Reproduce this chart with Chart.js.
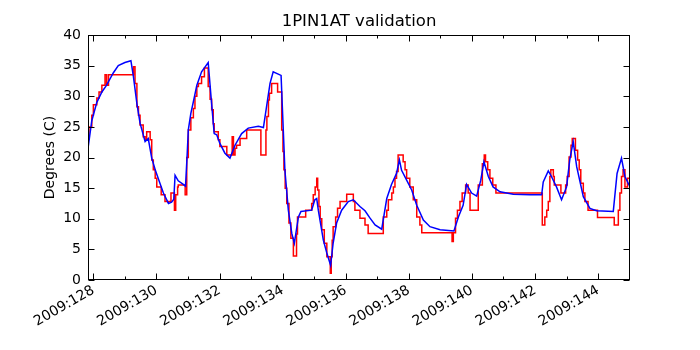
<!DOCTYPE html>
<html>
<head>
<meta charset="utf-8">
<title>1PIN1AT validation</title>
<script src="https://cdn.jsdelivr.net/npm/chart.js@4.4.1/dist/chart.umd.min.js"></script>
<style>
  html, body { margin: 0; padding: 0; background: #fff; }
  #wrap { width: 700px; height: 350px; }
</style>
</head>
<body>
<div id="wrap"><canvas id="validationChart" width="700" height="350"></canvas></div>
<script>
// ==============================================================
//  DADOS
// ==============================================================

// modelo (curva azul): dia do ano 2009 / graus C
const blueDays = [127.83,127.95,128.11,128.27,128.42,128.63,128.79,129.00,129.19,129.27,129.38,129.48,129.64,129.74,129.85,129.96,130.11,130.22,130.38,130.48,130.55,130.59,130.69,130.85,130.92,130.97,131.01,131.09,131.17,131.28,131.43,131.64,131.73,131.83,131.91,132.01,132.17,132.33,132.49,132.70,132.91,133.23,133.39,133.49,133.60,133.70,133.95,134.02,134.07,134.18,134.29,134.37,134.50,134.58,134.92,135.02,135.08,135.13,135.29,135.40,135.52,135.60,135.71,135.87,136.08,136.24,136.45,136.61,136.77,136.93,137.14,137.30,137.45,137.61,137.70,137.77,137.93,138.09,138.25,138.46,138.67,138.99,139.43,139.57,139.72,139.83,139.99,140.15,140.28,140.38,140.52,140.67,140.89,141.31,141.84,142.21,142.26,142.42,142.52,142.68,142.84,143.00,143.10,143.21,143.32,143.53,143.74,143.95,144.48,144.60,144.74,144.85,145.01];
const blueTemps = [21.5,26.0,29.0,30.7,31.8,33.8,35.0,35.5,35.8,33.2,28.8,25.6,22.6,23.1,19.9,18.0,15.8,14.2,12.5,12.7,13.2,17.1,16.2,15.6,15.3,20.1,24.5,27.2,29.1,31.8,34.0,35.5,29.9,23.9,23.7,22.3,20.7,19.9,22.0,23.9,24.8,25.1,24.9,28.3,32.1,34.0,33.4,24.5,18.0,11.4,7.6,6.0,10.3,11.2,11.4,13.1,13.3,11.4,6.5,4.4,2.4,6.0,9.3,11.4,12.8,13.1,12.0,11.3,10.1,9.0,8.3,13.3,15.6,17.4,19.6,17.9,16.3,14.7,12.2,9.8,8.7,8.2,8.0,10.3,12.2,15.6,14.2,13.7,16.3,19.3,16.9,15.2,14.4,14.0,13.9,13.9,16.0,17.8,16.9,15.2,13.1,15.2,19.6,22.6,18.5,13.6,11.7,11.3,11.2,17.4,19.9,16.9,15.2];

// telemetria (degraus vermelhos): inicio de cada nivel
const redDays = [127.83,127.86,127.95,128.00,128.11,128.18,128.27,128.37,128.42,128.48,129.27,129.32,129.38,129.43,129.48,129.58,129.64,129.69,129.80,129.85,129.90,129.96,130.01,130.15,130.27,130.46,130.57,130.61,130.67,130.69,130.91,130.96,131.01,131.09,131.17,131.22,131.28,131.33,131.43,131.52,131.64,131.70,131.75,131.80,131.83,131.96,132.01,132.23,132.40,132.44,132.49,132.54,132.65,132.86,133.31,133.47,133.50,133.55,133.58,133.65,133.84,133.97,134.01,134.04,134.08,134.13,134.20,134.26,134.34,134.44,134.47,134.73,134.92,134.97,135.03,135.08,135.11,135.15,135.19,135.24,135.32,135.40,135.51,135.54,135.57,135.60,135.68,135.74,135.82,136.03,136.24,136.29,136.45,136.61,136.71,137.19,137.30,137.35,137.46,137.51,137.56,137.61,137.66,137.82,137.88,137.93,138.03,138.14,138.25,138.35,138.41,139.37,139.41,139.48,139.54,139.62,139.69,139.80,139.88,139.94,140.20,140.33,140.39,140.43,140.50,140.57,140.66,140.76,142.23,142.31,142.37,142.42,142.47,142.50,142.58,142.61,142.82,142.97,143.02,143.08,143.14,143.18,143.28,143.35,143.40,143.45,143.53,143.58,143.68,143.98,144.51,144.64,144.69,144.74,144.79,144.85,144.93,145.01];
const redTemps = [23.0,25.0,26.9,28.6,29.7,30.7,31.8,33.5,31.8,33.5,34.8,32.1,28.3,26.9,25.3,23.4,22.9,24.2,22.9,19.6,18.0,16.6,15.2,13.9,12.8,14.2,11.4,13.9,15.2,15.5,13.9,20.0,24.5,26.5,28.0,30.0,31.6,32.1,33.2,34.6,31.6,29.5,27.8,25.5,24.2,22.9,21.8,20.4,23.4,20.4,21.5,22.0,23.1,24.5,20.4,24.5,26.7,29.4,30.5,32.1,30.7,24.5,21.0,18.0,15.0,12.5,9.3,6.8,3.9,7.5,10.3,11.4,12.5,13.9,15.2,16.6,14.7,12.0,10.0,8.2,6.0,3.8,1.1,3.8,6.5,8.7,10.3,11.7,12.8,14.0,12.8,11.4,10.1,9.0,7.6,10.3,11.4,13.1,14.2,15.2,16.6,17.7,20.4,19.3,18.0,16.6,15.2,13.1,10.3,9.0,7.7,6.3,7.7,10.1,11.4,12.8,14.2,15.5,14.2,11.4,15.5,19.0,20.4,19.3,18.0,16.6,15.5,14.2,9.0,10.3,11.4,12.8,16.9,18.0,16.9,15.5,14.2,15.5,16.9,20.1,22.0,23.1,21.2,19.6,18.0,15.8,14.2,12.8,11.4,10.2,9.0,11.4,14.2,16.9,18.0,15.2,16.6,16.6];

// eixos
const xMin = 127.83;
const xMax = 145.01;
const xMajorTicks = [128, 130, 132, 134, 136, 138, 140, 142, 144];
const xTickLabels = ['2009:128', '2009:130', '2009:132', '2009:134', '2009:136', '2009:138', '2009:140', '2009:142', '2009:144'];
const xMinorTicks = [129, 131, 133, 135, 137, 139, 141, 143];
const yTicks = [0, 5, 10, 15, 20, 25, 30, 35, 40];

// --- marcas de escala para dentro + moldura (estilo matplotlib) ---
const inwardTicks = {
    id: 'inwardTicks',
    afterDraw(chart) {
        const { ctx, chartArea: a, scales: { x, y } } = chart;
        const L = Math.round(a.left) + 0.5, R = Math.round(a.right) - 0.5;
        const T = Math.round(a.top) + 0.5, B = Math.round(a.bottom) - 0.5;
        ctx.save();
        ctx.strokeStyle = '#000';
        ctx.lineWidth = 1;
        ctx.beginPath();
        const xTick = (v, len) => {
            const px = Math.round(x.getPixelForValue(v)) + 0.5;
            ctx.moveTo(px, B); ctx.lineTo(px, B - len);
            ctx.moveTo(px, T); ctx.lineTo(px, T + len);
        };
        xMajorTicks.forEach(v => xTick(v, 6));
        xMinorTicks.forEach(v => xTick(v, 3));
        yTicks.forEach(v => {
            const py = Math.round(y.getPixelForValue(v)) + 0.5;
            ctx.moveTo(L, py); ctx.lineTo(L + 6, py);
            ctx.moveTo(R, py); ctx.lineTo(R - 6, py);
        });
        ctx.stroke();
        ctx.strokeRect(L, T, R - L, B - T);
        ctx.restore();
    }
};

document.addEventListener('DOMContentLoaded', function() {
    Chart.defaults.font.family = "'DejaVu Sans', sans-serif";
    Chart.defaults.font.size = 14;
    Chart.defaults.color = '#000';

    const bluePoints = blueDays.map((d, i) => ({ x: d, y: blueTemps[i] }));
    const redPoints = redDays.map((d, i) => ({ x: d, y: redTemps[i] }));

    new Chart(document.getElementById('validationChart'), {
        type: 'line',
        data: {
            datasets: [{
                label: 'model',
                data: bluePoints,
                borderColor: '#0000ff',
                borderWidth: 1.5,
                pointRadius: 0,
                tension: 0,
                order: 0
            }, {
                label: 'telem',
                data: redPoints,
                borderColor: '#ff0000',
                borderWidth: 1.5,
                pointRadius: 0,
                stepped: 'before',
                order: 1
            }]
        },
        options: {
            responsive: false,
            animation: false,
            events: [],
            layout: { padding: { left: 0, right: 70, top: 0, bottom: 0 } },
            plugins: {
                legend: { display: false },
                tooltip: { enabled: false },
                title: {
                    display: true,
                    text: '1PIN1AT validation',
                    fullSize: false,
                    font: { size: 16.5, weight: 'normal' },
                    color: '#000',
                    padding: { top: 12, bottom: 3.2 }
                }
            },
            scales: {
                x: {
                    type: 'linear',
                    min: xMin,
                    max: xMax,
                    grid: { display: false, drawTicks: false },
                    border: { display: false },
                    afterBuildTicks: s => { s.ticks = xMajorTicks.map(v => ({ value: v })); },
                    afterFit: s => { s.height = 70; },
                    ticks: {
                        autoSkip: false,
                        minRotation: 30,
                        maxRotation: 30,
                        padding: 2,
                        callback: (v) => xTickLabels[xMajorTicks.indexOf(v)]
                    }
                },
                y: {
                    min: 0,
                    max: 40,
                    grid: { display: false, drawTicks: false },
                    border: { display: false },
                    afterBuildTicks: s => { s.ticks = yTicks.map(v => ({ value: v })); },
                    afterFit: s => { s.width = 88; },
                    ticks: { padding: 7 },
                    title: {
                        display: true,
                        text: 'Degrees (C)',
                        font: { size: 14 },
                        padding: { top: 42, bottom: 0 }
                    }
                }
            }
        },
        plugins: [inwardTicks]
    });
});
</script>
</body>
</html>
